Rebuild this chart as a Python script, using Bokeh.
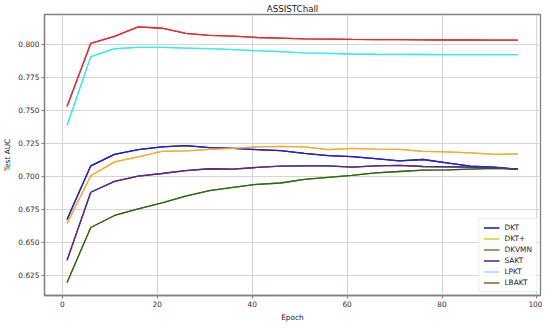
from bokeh.plotting import figure
from bokeh.models import FixedTicker, NumeralTickFormatter, Legend, LegendItem, Range1d
from bokeh.embed import file_html
from bokeh.resources import INLINE

epochs = [1, 6, 11, 16, 21, 26, 31, 36, 41, 46, 51, 56, 61, 66, 71, 76, 81, 86, 91, 96]
dkt = [0.6673, 0.7080, 0.7167, 0.7203, 0.7223, 0.7233, 0.7218, 0.7212, 0.7203, 0.7195,
       0.7175, 0.7158, 0.7150, 0.7135, 0.7118, 0.7128, 0.7103, 0.7077, 0.7070, 0.7053]
dkt_plus = [0.6644, 0.7005, 0.7110, 0.7148, 0.7190, 0.7193, 0.7205, 0.7212, 0.7223, 0.7227,
            0.7223, 0.7203, 0.7212, 0.7207, 0.7205, 0.7190, 0.7185, 0.7178, 0.7167, 0.7170]
dkvmn = [0.6197, 0.6613, 0.6704, 0.6754, 0.6799, 0.6850, 0.6893, 0.6917, 0.6940, 0.6950,
         0.6977, 0.6992, 0.7007, 0.7027, 0.7037, 0.7047, 0.7050, 0.7055, 0.7060, 0.7055]
sakt = [0.6365, 0.6880, 0.6962, 0.7002, 0.7022, 0.7043, 0.7058, 0.7055, 0.7068, 0.7077,
        0.7080, 0.7080, 0.7070, 0.7080, 0.7083, 0.7075, 0.7073, 0.7070, 0.7065, 0.7055]
lpkt = [0.7385, 0.7907, 0.7967, 0.7977, 0.7977, 0.7972, 0.7967, 0.7960, 0.7952, 0.7945,
        0.7935, 0.7932, 0.7927, 0.7925, 0.7924, 0.7923, 0.7922, 0.7922, 0.7922, 0.7922]
lbakt = [0.7530, 0.8008, 0.8060, 0.8132, 0.8122, 0.8083, 0.8068, 0.8062, 0.8052, 0.8047,
         0.8042, 0.8040, 0.8037, 0.8035, 0.8035, 0.8034, 0.8033, 0.8033, 0.8032, 0.8032]

names = ["DKT", "DKT+", "DKVMN", "SAKT", "LPKT", "LBAKT"]
series = [dkt, dkt_plus, dkvmn, sakt, lpkt, lbakt]
line_colors = ["#2323cc", "#ffa636", "#336614", "#5a2d82", "#22f5ee", "#ff1f36"]
legend_colors = ["#1212c0", "#d2d21e", "#5a8a3a", "#3a2a80", "#a8d8f0", "#7a6a2a"]
x_ticks = [0, 20, 40, 60, 80, 100]
y_ticks = [0.625, 0.650, 0.675, 0.700, 0.725, 0.750, 0.775, 0.800]

FONT = "DejaVu Sans"
p = figure(width=542, height=324, output_backend="svg", toolbar_location=None,
           x_range=Range1d(-3.75, 100.75), y_range=Range1d(0.6098, 0.8226),
           min_border_left=0, min_border_right=2, min_border_top=0, min_border_bottom=0)

p.title.text = "ASSISTChall"
p.title.text_font = FONT
p.title.text_font_size = "8.7px"
p.title.text_font_style = "normal"
p.title.align = "center"
p.title.offset = -15
p.title.standoff = 2
p.title.text_color = "#222222"

# legend-coloured copies (used as legend samples), drawn underneath the data lines
items = []
for n, ys, c in zip(names, series, legend_colors):
    r = p.line(epochs, ys, line_color=c, line_width=1.3)
    items.append(LegendItem(label=n, renderers=[r]))

for ys, c in zip(series, line_colors):
    p.line(epochs, ys, line_color=c, line_width=1.3)

legend = Legend(items=items, location="bottom_right")
legend.label_text_font = FONT
legend.label_text_font_size = "7.4px"
legend.label_text_color = "#222222"
legend.glyph_width = 16
legend.glyph_height = 9
legend.label_height = 9
legend.spacing = 2
legend.padding = 4
legend.margin = 3
legend.label_standoff = 5
legend.border_line_color = "#dddddd"
legend.border_line_width = 1
legend.background_fill_alpha = 0.85
p.add_layout(legend)

p.xaxis.ticker = FixedTicker(ticks=x_ticks)
p.yaxis.ticker = FixedTicker(ticks=y_ticks)
p.yaxis.formatter = NumeralTickFormatter(format="0.000")
p.xaxis.axis_label = "Epoch"
p.yaxis.axis_label = "Test AUC"

for ax in (p.xaxis, p.yaxis):
    ax.axis_label_text_font = FONT
    ax.axis_label_text_font_size = "7.4px"
    ax.axis_label_text_font_style = "normal"
    ax.axis_label_text_color = "#222222"
    ax.major_label_text_font = FONT
    ax.major_label_text_font_size = "7.4px"
    ax.major_label_text_color = "#333333"
    ax.axis_line_color = "#808080"
    ax.axis_line_width = 1.3
    ax.major_tick_line_color = "#808080"
    ax.major_tick_out = 3
    ax.major_tick_in = 0
    ax.minor_tick_line_color = None
    ax.major_label_standoff = 2
    ax.axis_label_standoff = 3

p.outline_line_color = "#808080"
p.outline_line_width = 1.3
p.grid.grid_line_color = "#d4d4d4"
p.grid.grid_line_width = 1
p.background_fill_color = "white"

open("out.html", "w").write(file_html(p, INLINE))
